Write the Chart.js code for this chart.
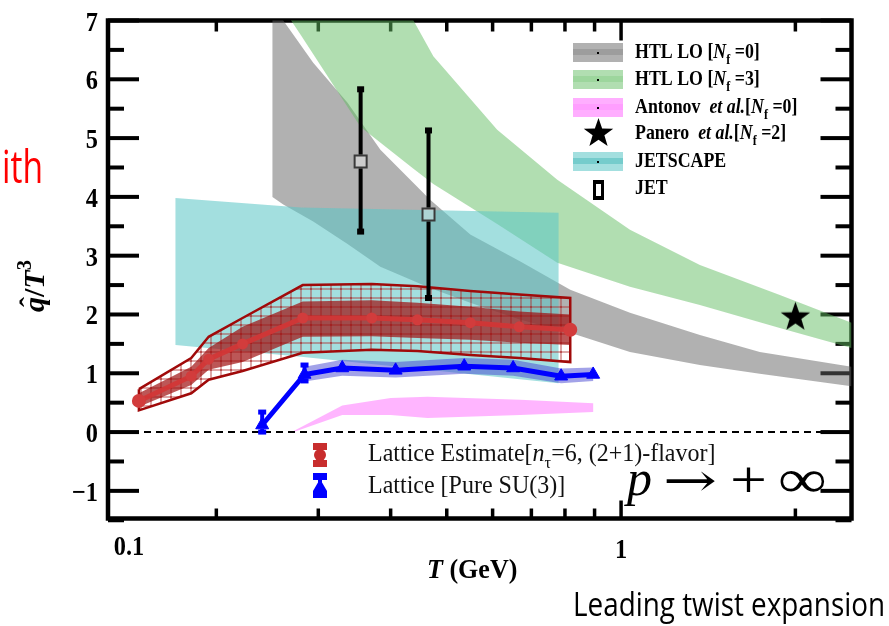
<!DOCTYPE html>
<html>
<head>
  <title>qhat over T^3</title>
  <script src="https://cdn.jsdelivr.net/npm/chart.js@4/dist/chart.umd.min.js"></script>
  <style>
    body { margin: 0; background: #fff; }
    #wrap { width: 889px; height: 626px; position: relative; }
  </style>
</head>
<body>
<div id="wrap"><canvas id="chart"></canvas></div>
<script>
// HTL LO, Nf = 0
const htl0T  = [0.250, 0.261, 0.294, 0.337, 0.384, 0.468, 0.549, 0.670, 0.817, 1.036, 1.368, 1.736, 2.50];
const htl0Hi = [7.30, 7.00, 6.28, 5.60, 4.80, 3.95, 3.36, 2.90, 2.42, 2.03, 1.65, 1.36, 1.11];
const htl0Lo = [4.00, 3.87, 3.58, 3.20, 2.81, 2.45, 2.20, 1.91, 1.69, 1.36, 1.14, 0.99, 0.78];
// HTL LO, Nf = 3
const htl3T  = [0.261, 0.280, 0.355, 0.438, 0.474, 0.611, 0.776, 1.036, 1.368, 1.880, 2.50];
const htl3Hi = [10.9, 10.4, 8.60, 7.00, 6.39, 5.14, 4.29, 3.44, 2.84, 2.33, 1.86];
const htl3Lo = [7.20, 6.75, 5.19, 4.48, 4.22, 3.54, 2.88, 2.47, 2.16, 1.77, 1.43];
// Antonov et al., Nf = 0
const antT  = [0.272, 0.330, 0.400, 0.463, 0.670, 0.895];
const antHi = [0.02, 0.45, 0.58, 0.60, 0.55, 0.49];
const antLo = [0.00, 0.29, 0.29, 0.24, 0.29, 0.34];
// JETSCAPE
const jsT  = [0.170, 0.280, 0.780];
const jsHi = [3.98, 3.82, 3.73];
const jsLo = [1.48, 1.28, 0.83];
// Lattice estimate, n_tau = 6, (2+1)-flavor
const latT     = [0.147, 0.181, 0.194, 0.222, 0.282, 0.371, 0.445, 0.549, 0.667, 0.817];
const latQ     = [0.53, 0.95, 1.24, 1.50, 1.94, 1.94, 1.91, 1.86, 1.79, 1.74];
const latInHi  = [0.66, 1.11, 1.43, 1.79, 2.22, 2.24, 2.20, 2.13, 2.05, 2.00];
const latInLo  = [0.43, 0.80, 1.06, 1.19, 1.62, 1.63, 1.60, 1.57, 1.52, 1.48];
const latOutHi = [0.73, 1.26, 1.62, 1.94, 2.50, 2.52, 2.48, 2.40, 2.34, 2.28];
const latOutLo = [0.37, 0.66, 0.89, 1.04, 1.35, 1.40, 1.38, 1.31, 1.26, 1.19];
// Lattice, pure SU(3)
const suT     = [0.240, 0.284, 0.330, 0.408, 0.536, 0.651, 0.788, 0.895];
const suQ     = [0.12, 0.98, 1.09, 1.05, 1.12, 1.09, 0.95, 0.98];
const suBandT = [0.284, 0.330, 0.408, 0.536, 0.651, 0.788, 0.895];
const suBandHi = [1.11, 1.23, 1.19, 1.26, 1.23, 1.08, 1.10];
const suBandLo = [0.86, 0.96, 0.93, 0.99, 0.96, 0.83, 0.87];
const suErrT  = [0.240, 0.284];
const suErrQ  = [0.12, 0.98];
const suErrHi = [0.34, 1.14];
const suErrLo = [0.00, 0.87];
// JET
const jetT  = [0.355, 0.465];
const jetQ  = [4.60, 3.70];
const jetHi = [5.83, 5.13];
const jetLo = [3.41, 2.28];
// Panero et al., Nf = 2
const panT = [2.0];
const panQ = [1.97];

const yMajor = [-1, 0, 1, 2, 3, 4, 5, 6, 7];
const yMinor = [-1.5, -0.5, 0.5, 1.5, 2.5, 3.5, 4.5, 5.5, 6.5];
const xMinor = [0.2, 0.3, 0.4, 0.5, 0.6, 0.7, 0.8, 0.9, 2];
const xMajor = [1];

const SERIF = '"Liberation Serif", "Times New Roman", serif';
const SANS = '"Open Sans", "Noto Sans", sans-serif';

const canvas = document.getElementById('chart');
const ctxMain = canvas.getContext('2d');

const series = (T, v) => T.map((t, i) => ({x: t, y: v[i]}));
function band(T, hi, lo) {
  const pts = series(T, hi);
  for (let i = T.length - 1; i >= 0; i--) pts.push({x: T[i], y: lo[i]});
  pts.push({x: T[0], y: hi[0]});
  return pts;
}

// grid hatch for the outer lattice band
const hatch = (() => {
  const c = document.createElement('canvas');
  c.width = 10; c.height = 9;
  const g = c.getContext('2d');
  g.fillStyle = 'rgba(175,45,45,0.42)';
  g.fillRect(0, 0, 10, 2);
  g.fillRect(0, 0, 2, 9);
  g.fillStyle = 'rgba(160,20,20,0.35)';
  g.fillRect(0, 0, 2, 2);
  return ctxMain.createPattern(c, 'repeat');
})();

function makeStar(size) {
  const c = document.createElement('canvas');
  c.width = c.height = size;
  const g = c.getContext('2d');
  g.fillStyle = '#000';
  g.beginPath();
  for (let i = 0; i < 10; i++) {
    const r = i % 2 ? size * 0.2 : size * 0.5;
    const a = -Math.PI / 2 + i * Math.PI / 5;
    g.lineTo(size / 2 + r * Math.cos(a), size * 0.53 + r * Math.sin(a));
  }
  g.closePath();
  g.fill();
  return c;
}
const starImg = makeStar(31);

const shape = (data, bg, extra) => Object.assign({
  data, backgroundColor: bg, fill: 'shape', borderWidth: 0, pointRadius: 0, tension: 0
}, extra || {});

// text helpers
function rich(ctx, runs, x, y, size, sx, weight) {
  ctx.save();
  ctx.translate(x, y);
  ctx.scale(sx, 1);
  let cx = 0;
  for (const r of runs) {
    const fs = (r.sub || r.sup) ? size * 0.68 : size;
    ctx.font = `${r.it ? 'italic ' : ''}${weight} ${fs}px ${SERIF}`;
    const dy = r.sub ? size * 0.28 : (r.sup ? -size * 0.42 : 0);
    ctx.fillText(r.t, cx, dy);
    cx += ctx.measureText(r.t).width;
  }
  ctx.restore();
}
function fit(ctx, s, font, x, y, w, color) {
  ctx.save();
  ctx.font = font;
  ctx.fillStyle = color;
  const m = ctx.measureText(s).width;
  ctx.translate(x, y);
  ctx.scale(w / m, 1);
  ctx.fillText(s, 0, 0);
  ctx.restore();
}

const axesPlugin = {
  id: 'axesPlugin',
  beforeDatasetsDraw(chart) {
    const {ctx, chartArea: a, scales: {x, y}} = chart;
    ctx.save();
    ctx.strokeStyle = '#000';
    ctx.lineWidth = 4;
    const seg = (x1, y1, x2, y2) => { ctx.beginPath(); ctx.moveTo(x1, y1); ctx.lineTo(x2, y2); ctx.stroke(); };
    yMajor.forEach(v => {
      const p = y.getPixelForValue(v);
      seg(a.left, p, a.left + 31, p);
      seg(a.right - 31, p, a.right, p);
    });
    yMinor.forEach(v => {
      const p = y.getPixelForValue(v);
      seg(a.left, p, a.left + 16, p);
      seg(a.right - 16, p, a.right, p);
    });
    ctx.lineWidth = 3.5;
    xMinor.forEach(v => {
      const p = x.getPixelForValue(v);
      seg(p, a.bottom, p, a.bottom - 10);
      seg(p, a.top, p, a.top + 11);
    });
    xMajor.forEach(v => {
      const p = x.getPixelForValue(v);
      seg(p, a.bottom, p, a.bottom - 18);
      seg(p, a.top, p, a.top + 20);
    });
    ctx.lineWidth = 4.5;
    ctx.strokeRect(a.left, a.top, a.right - a.left, a.bottom - a.top);
    ctx.restore();
  },
  afterDatasetsDraw(chart) {
    const {ctx, scales: {x, y}} = chart;
    ctx.save();
    const bar = (t, v, lo, hi, gap, color, w, capW, capH) => {
      const px = x.getPixelForValue(t), py = y.getPixelForValue(v);
      const ph = y.getPixelForValue(hi), pl = y.getPixelForValue(lo);
      ctx.strokeStyle = color; ctx.fillStyle = color; ctx.lineWidth = w;
      ctx.beginPath();
      ctx.moveTo(px, ph); ctx.lineTo(px, py - gap);
      ctx.moveTo(px, py + gap); ctx.lineTo(px, pl);
      ctx.stroke();
      ctx.fillRect(px - capW / 2, ph - capH / 2, capW, capH);
      ctx.fillRect(px - capW / 2, pl - capH / 2, capW, capH);
    };
    jetT.forEach((t, i) => bar(t, jetQ[i], jetLo[i], jetHi[i], 7, '#000', 4, 7, 6));
    suErrT.forEach((t, i) => bar(t, suErrQ[i], suErrLo[i], suErrHi[i], 4, '#0000ff', 4, 8, 5));
    ctx.restore();
  },
  afterDraw(chart) {
    const {ctx, scales: {x, y}, chartArea: a} = chart;
    ctx.save();
    ctx.fillStyle = '#000';
    ctx.textBaseline = 'alphabetic';

    // y tick labels
    yMajor.forEach(v => {
      const p = y.getPixelForValue(v);
      ctx.save();
      ctx.font = `bold 28px ${SERIF}`;
      ctx.textAlign = 'right';
      ctx.translate(98, p + 10);
      ctx.scale(0.87, 1);
      ctx.fillText(v < 0 ? '\u2212' + (-v) : String(v), 0, 0);
      ctx.restore();
    });
    // x tick labels
    ctx.save();
    ctx.font = `bold 28px ${SERIF}`;
    ctx.textAlign = 'center';
    ctx.translate(a.left + 21, 555); ctx.scale(0.87, 1); ctx.fillText('0.1', 0, 0);
    ctx.restore();
    ctx.save();
    ctx.font = `bold 28px ${SERIF}`;
    ctx.textAlign = 'center';
    ctx.translate(x.getPixelForValue(1), 558); ctx.scale(0.87, 1); ctx.fillText('1', 0, 0);
    ctx.restore();

    // axis titles
    rich(ctx, [{t: 'T', it: true}, {t: ' (GeV)'}], 427, 578, 28, 0.93, 'bold');
    ctx.save();
    ctx.translate(44, 312);
    ctx.rotate(-Math.PI / 2);
    rich(ctx, [{t: 'q', it: true}, {t: '/'}, {t: 'T', it: true}, {t: '3', sup: true}], 0, 0, 30, 1, 'bold');
    ctx.font = `bold 30px ${SERIF}`;
    ctx.fillText('\u02C6', 5, -4);
    ctx.restore();

    // legend, upper right
    const box = (top, fillC, stripe) => {
      ctx.fillStyle = fillC; ctx.fillRect(573, top, 50, 19);
      ctx.fillStyle = stripe; ctx.fillRect(573, top + 6, 50, 6);
      ctx.fillStyle = '#000'; ctx.fillRect(597, top + 9, 2, 2);
    };
    box(43, 'rgba(100,100,100,0.5)', 'rgba(100,100,100,0.25)');
    box(70, 'rgba(100,190,100,0.5)', 'rgba(100,190,100,0.25)');
    box(98, 'rgba(255,120,255,0.6)', 'rgba(255,120,255,0.3)');
    ctx.drawImage(starImg, 598 - 15, 133 - 16);
    box(152, 'rgba(94,199,199,0.57)', 'rgba(60,180,180,0.45)');
    ctx.fillStyle = '#000';
    ctx.fillRect(593, 180, 11, 20);
    ctx.fillStyle = '#fff';
    ctx.fillRect(596, 184, 5, 12);
    ctx.fillStyle = '#000';
    const L = 21, LS = 0.85;
    rich(ctx, [{t: 'HTL LO ['}, {t: 'N', it: true}, {t: 'f', sub: true}, {t: ' =0]'}], 635, 58, L, LS, 'bold');
    rich(ctx, [{t: 'HTL LO ['}, {t: 'N', it: true}, {t: 'f', sub: true}, {t: ' =3]'}], 635, 85, L, LS, 'bold');
    rich(ctx, [{t: 'Antonov  '}, {t: 'et al.', it: true}, {t: '['}, {t: 'N', it: true}, {t: 'f', sub: true}, {t: ' =0]'}], 635, 113, L, LS, 'bold');
    rich(ctx, [{t: 'Panero  '}, {t: 'et al.', it: true}, {t: '['}, {t: 'N', it: true}, {t: 'f', sub: true}, {t: ' =2]'}], 635, 139, L, LS, 'bold');
    rich(ctx, [{t: 'JETSCAPE'}], 635, 167, L, LS, 'bold');
    rich(ctx, [{t: 'JET'}], 635, 194, L, LS, 'bold');

    // legend, lower
    ctx.fillStyle = 'rgb(200,45,45)';
    ctx.fillRect(313, 443, 14, 7);
    ctx.fillRect(313, 460, 14, 7);
    ctx.fillRect(318, 446, 4, 18);
    ctx.beginPath(); ctx.arc(320, 455, 6, 0, Math.PI * 2); ctx.fill();
    ctx.fillStyle = '#0000ff';
    ctx.fillRect(313, 473, 14, 7);
    ctx.fillRect(313, 491, 14, 7);
    ctx.fillRect(318, 476, 4, 18);
    ctx.beginPath(); ctx.moveTo(320, 479); ctx.lineTo(327, 491); ctx.lineTo(313, 491); ctx.closePath(); ctx.fill();
    ctx.fillStyle = '#111';
    rich(ctx, [{t: 'Lattice Estimate['}, {t: 'n', it: true}, {t: '\u03C4', sub: true}, {t: '=6, (2+1)-flavor]'}], 368, 461, 25, 0.96, 'normal');
    rich(ctx, [{t: 'Lattice [Pure SU(3)]'}], 368, 493, 25, 0.96, 'normal');

    // p -> +infinity
    fit(ctx, 'p', `italic 50px ${SERIF}`, 627, 495, 25, '#000');
    fit(ctx, '\u2192', '46px "DejaVu Serif"', 663, 496, 54, '#000');
    fit(ctx, '+', `52px ${SERIF}`, 730, 497, 37, '#000');
    fit(ctx, '\u221E', `54px ${SERIF}`, 778, 497, 49, '#000');

    // slide text around the figure
    fit(ctx, 'ith', `45px ${SANS}`, 2, 183, 41, '#ff0000');
    fit(ctx, 'Leading twist expansion', `32px ${SANS}`, 573, 616, 312, '#000');
    ctx.restore();
  }
};

new Chart(ctxMain, {
  type: 'line',
  data: {
    datasets: [
      { data: series(panT, panQ), showLine: false, pointStyle: starImg, pointRadius: 15 },
      { data: series(jetT, jetQ), showLine: false, pointStyle: 'rect', pointRadius: 8.5,
        pointBackgroundColor: 'rgba(255,255,255,0.35)', pointBorderColor: '#3a3a3a', pointBorderWidth: 2 },
      { data: series(suT, suQ), borderColor: '#0000ff', borderWidth: 5, pointStyle: 'triangle',
        pointRadius: 7.5, pointBackgroundColor: '#0000ff', pointBorderColor: '#0000ff', pointBorderWidth: 1, tension: 0 },
      shape(band(suBandT, suBandHi, suBandLo), 'rgba(70,70,210,0.5)'),
      { data: series(latT, latQ), borderColor: 'rgba(210,55,55,0.95)', borderWidth: 5,
        pointRadius: [7, 5.5, 5.5, 5.5, 5.5, 5.5, 5.5, 5.5, 5.5, 7], pointBackgroundColor: 'rgb(210,60,60)',
        pointBorderWidth: 0, tension: 0 },
      shape(band(latT, latInHi, latInLo), 'rgba(160,15,15,0.7)'),
      shape(band(latT, latOutHi, latOutLo), hatch, { borderWidth: 2.5, borderColor: 'rgb(160,10,10)' }),
      { data: [{x: 0.13, y: 0}, {x: 2.5, y: 0}], borderColor: '#000', borderWidth: 2,
        borderDash: [7, 5], pointRadius: 0 },
      shape(band(antT, antHi, antLo), 'rgba(255,120,255,0.55)'),
      shape(band(jsT, jsHi, jsLo), 'rgba(94,199,199,0.57)'),
      shape(band(htl3T, htl3Hi, htl3Lo), 'rgba(100,190,100,0.5)'),
      shape(band(htl0T, htl0Hi, htl0Lo), 'rgba(100,100,100,0.5)')
    ]
  },
  options: {
    responsive: true,
    maintainAspectRatio: false,
    animation: false,
    events: [],
    layout: { autoPadding: false, padding: { left: 108, right: 37.5, top: 20.5, bottom: 107.5 } },
    plugins: { legend: { display: false }, tooltip: { enabled: false } },
    scales: {
      x: { type: 'logarithmic', min: 0.13, max: 2.5, display: false },
      y: { type: 'linear', min: -1.47, max: 7, display: false }
    }
  },
  plugins: [axesPlugin]
});
</script>
</body>
</html>
